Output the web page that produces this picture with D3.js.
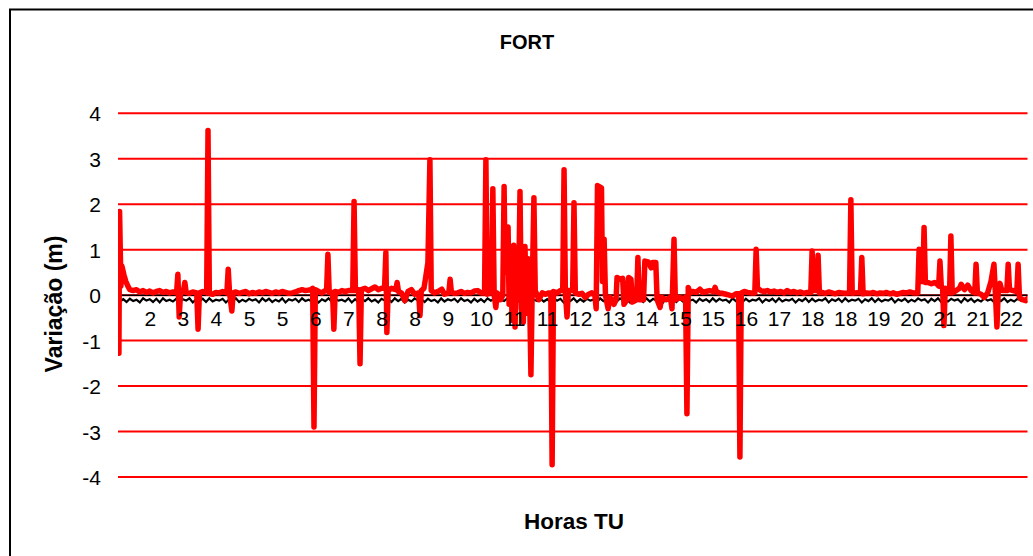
<!DOCTYPE html>
<html>
<head>
<meta charset="utf-8">
<script src="https://cdn.jsdelivr.net/npm/d3@7"></script>
<style>
  html, body { margin: 0; padding: 0; background: #fff; }
  svg { display: block; font-family: "Liberation Sans", Arial, sans-serif; }
</style>
</head>
<body>
<svg id="chart" width="1033" height="556"></svg>
<script>
// ---- data ----
const chartTitle = "FORT";
const xTitle = "Horas TU";
const yTitle = "Variação (m)";

// hour labels shown every 10 samples (samples 10, 20, ... 270)
const hourLabels = ["2","3","4","5","5","6","7","8","8","9","10","11","11","12","13","14","15","15","16","17","18","18","19","20","21","21","22"];
const labelEvery = 10;
const sampleCount = 276;

const yTicks = [-4, -3, -2, -1, 0, 1, 2, 3, 4];

// red series: [sample position, variation (m)]
const variationSeries = [
  [0,0.10],[0.7,-1.28],[0.9,1.84],[1.3,0.20],[1.6,0.64],[2.2,0.45],[2.8,0.30],[3.4,0.20],[4,0.12],[5,0.10],
  [6,0.12],[7,0.07],[8,0.10],[9,0.06],[10,0.09],[11,0.05],[12,0.08],[13,0.10],[14,0.06],[15,0.08],
  [16,0.05],[17,0.07],[18.1,0.05],[18.5,0.46],[18.9,-0.48],[19.3,0.05],[20.2,0.10],[20.6,0.28],[21,0.06],[22,0.04],
  [23,0.07],[24.2,0.05],[24.6,-0.75],[25,0.05],[26,0.08],[27.2,0.05],[27.6,3.62],[28,0.04],[29,0.02],[30,0.06],
  [31,0.05],[32,0.08],[33.3,0.05],[33.7,0.57],[34.1,0.05],[34.8,-0.35],[35.2,0.05],[36,0.07],[37,0.04],[38,0.06],
  [39,0.08],[40,0.03],[41,0.06],[42,0.04],[43,0.07],[44,0.05],[45,0.08],[46,0.06],[47,0.04],[48,0.07],
  [49,0.05],[50,0.08],[51,0.06],[52,0.04],[53,0.05],[54,0.07],[55,0.10],[56,0.12],[57,0.10],[58.6,0.12],
  [59.2,0.15],[59.6,-2.90],[60,0.12],[61,0.08],[62,0.05],[63,0.10],[63.4,0.10],[63.8,0.90],[64.2,0.06],[65.2,0.06],
  [65.6,-0.75],[66,0.08],[67,0.06],[68,0.10],[69,0.08],[70,0.10],[71.3,0.10],[71.7,2.06],[72.1,0.10],[73.1,0.12],
  [73.5,-1.51],[73.9,0.12],[75,0.15],[76,0.10],[77,0.14],[78,0.18],[79,0.12],[80,0.15],[80.9,0.15],[81.3,0.94],
  [81.6,-0.82],[82,0.10],[83,0.15],[84.3,0.12],[84.7,0.28],[85.1,0.08],[86,0.05],[87,-0.12],[88,0.08],[89,0.12],
  [90,0.02],[91.2,0.05],[91.6,-0.45],[92,0.10],[92.8,0.15],[93.3,0.38],[94.0,0.72],[94.6,2.98],[95.0,0.10],[96,0.05],
  [97,0.08],[98.2,0.13],[99,0.02],[100.3,0.05],[100.7,0.35],[101.1,0.06],[102,0.04],[103,0.05],[104,0.08],[105,0.04],
  [106,0.06],[107,0.05],[108,0.09],[109,0.10],[110,0.05],[111.1,0.05],[111.5,2.98],[111.9,0.02],[112.6,0.05],[113.2,0.05],
  [113.6,2.34],[114.0,0.00],[114.5,-0.27],[114.9,0.05],[116,-0.10],[116.6,0.00],[117.0,2.39],[117.3,0.50],[118.2,1.50],[118.5,-0.20],
  [119.0,1.00],[119.4,-0.55],[119.9,1.10],[120.3,-0.70],[120.8,0.90],[121.4,0.20],[121.8,2.28],[122.2,-0.30],[122.8,-0.60],[123.3,1.07],
  [123.8,-0.40],[124.3,0.80],[124.7,0.00],[125.1,-1.75],[125.5,0.20],[126.0,2.14],[126.4,0.10],[127.5,-0.10],[128.5,0.05],[129.5,0.02],
  [130.5,0.05],[131.1,0.05],[131.5,-3.73],[131.9,0.08],[133,0.05],[134,0.10],[134.7,0.10],[135.1,2.76],[135.5,0.05],[136.0,-0.48],
  [136.4,0.10],[137.7,0.10],[138.1,2.03],[138.5,0.05],[139.5,0.02],[140.5,0.04],[141.5,-0.05],[142.5,0.02],[143.5,0.05],[144.4,0.00],
  [144.8,-0.30],[145.2,2.41],[146.4,2.36],[146.7,0.30],[147.2,1.23],[147.6,0.00],[148.4,-0.30],[149,-0.05],[150.2,-0.20],[150.8,-0.10],
  [151.1,0.39],[152.0,0.35],[152.8,0.37],[153.2,-0.20],[154.1,-0.10],[154.6,0.39],[155.3,0.35],[155.7,-0.15],[157,-0.10],[157.4,0.83],
  [157.8,-0.10],[159.1,-0.10],[159.5,0.75],[160.5,0.73],[161.4,0.60],[161.8,0.72],[162.8,0.72],[163.2,-0.10],[164.1,-0.27],[164.6,-0.05],
  [166,-0.10],[167.2,-0.05],[167.7,-0.30],[168.3,1.23],[168.7,-0.10],[170,-0.05],[171,-0.08],[171.8,-0.05],[172.2,-2.61],[172.6,0.17],
  [173.2,0.05],[174,0.08],[175,0.06],[176.1,0.13],[177,0.06],[178,0.08],[179,0.10],[180.3,0.08],[180.7,0.17],[181.1,0.08],
  [182,0.05],[183,0.04],[184,0.02],[185,0.00],[186,-0.02],[187,0.03],[187.8,0.03],[188.2,-3.56],[188.6,0.05],[189.5,0.08],
  [190.5,0.06],[191.5,0.05],[192.7,0.05],[193.1,1.01],[193.5,0.15],[194.5,0.10],[195.5,0.08],[196.5,0.10],[197.5,0.07],[198.5,0.09],
  [199.5,0.06],[200.5,0.08],[201.5,0.05],[202.5,0.10],[203.5,0.06],[204.5,0.08],[205.5,0.05],[206.5,0.07],[207.5,0.04],[208.5,0.06],
  [209.6,0.06],[210.0,0.97],[210.4,0.10],[211.4,0.10],[211.8,0.88],[212.2,0.05],[213,0.06],[214,0.04],[215,0.07],[216,0.05],
  [217,0.03],[218,0.06],[219,0.05],[220,0.04],[221.3,0.05],[221.7,2.10],[222.1,0.04],[223,0.05],[224.6,0.06],[225.0,0.83],
  [225.4,0.03],[226.5,0.05],[227.5,0.04],[228.5,0.06],[229.5,0.03],[230.5,0.05],[231.5,0.04],[232.5,0.06],[233.5,0.03],[234.5,0.05],
  [235.5,0.02],[236.5,0.04],[237.5,0.06],[238.5,0.05],[239.5,0.07],[240.5,0.05],[241.9,0.05],[242.3,1.01],[242.7,0.30],[243.4,0.30],
  [243.8,1.49],[244.2,0.28],[245,0.28],[246,0.25],[247,0.28],[247.6,0.25],[248.2,0.20],[248.6,0.75],[249.0,0.20],[249.4,0.15],
  [249.8,-0.67],[250.2,0.15],[251.5,0.05],[251.9,1.30],[252.3,0.05],[253.5,0.10],[254.5,0.15],[255,0.24],[256,0.12],[257,0.22],
  [258,0.10],[259.1,0.05],[259.5,0.68],[259.9,0.05],[261,0.02],[262,-0.05],[263,0.05],[264.0,0.30],[264.9,0.68],[265.3,0.10],
  [265.8,-0.70],[266.2,0.10],[266.7,0.26],[267.3,0.10],[268.8,0.10],[269.2,0.68],[269.6,0.12],[271.8,0.08],[272.2,0.68],[272.6,-0.05],
  [273.5,-0.10],[274.5,-0.12],[275,-0.08]
];

// black series: one value per sample (0 .. 275)
const blackSeries = [
  -0.07,-0.14,-0.09,-0.15,-0.08,-0.13,-0.10,-0.16,-0.07,-0.12,-0.09,-0.15,
  -0.08,-0.16,-0.07,-0.13,-0.10,-0.14,-0.08,-0.15,-0.09,-0.12,-0.07,-0.16,
  -0.09,-0.13,-0.08,-0.15,-0.07,-0.14,-0.10,-0.12,-0.08,-0.16,-0.09,-0.13,
  -0.07,-0.15,-0.10,-0.14,-0.08,-0.12,-0.09,-0.16,-0.07,-0.13,-0.08,-0.15,
  -0.10,-0.14,-0.07,-0.16,-0.09,-0.12,-0.08,-0.15,-0.07,-0.13,-0.10,-0.14,
  -0.08,-0.16,-0.09,-0.13,-0.07,-0.15,-0.08,-0.12,-0.10,-0.14,-0.07,-0.16,
  -0.09,-0.15,-0.08,-0.13,-0.07,-0.14,-0.10,-0.16,-0.08,-0.12,-0.09,-0.15,
  -0.07,-0.13,-0.08,-0.16,-0.10,-0.14,-0.07,-0.12,-0.09,-0.15,-0.08,-0.13,
  -0.10,-0.16,-0.07,-0.14,-0.09,-0.12,-0.08,-0.15,-0.07,-0.13,-0.10,-0.16,
  -0.08,-0.14,-0.09,-0.15,-0.07,-0.12,-0.08,-0.16,-0.10,-0.13,-0.07,-0.14,
  -0.09,-0.15,-0.08,-0.12,-0.07,-0.16,-0.10,-0.13,-0.08,-0.14,-0.09,-0.15,
  -0.07,-0.12,-0.08,-0.16,-0.10,-0.13,-0.07,-0.15,-0.09,-0.14,-0.08,-0.12,
  -0.10,-0.16,-0.07,-0.13,-0.09,-0.15,-0.08,-0.14,-0.07,-0.12,-0.10,-0.16,
  -0.08,-0.13,-0.09,-0.15,-0.07,-0.14,-0.08,-0.12,-0.10,-0.16,-0.07,-0.13,
  -0.09,-0.15,-0.08,-0.14,-0.07,-0.12,-0.10,-0.16,-0.08,-0.13,-0.09,-0.15,
  -0.07,-0.14,-0.08,-0.12,-0.10,-0.16,-0.07,-0.13,-0.09,-0.15,-0.08,-0.14,
  -0.10,-0.12,-0.07,-0.16,-0.09,-0.13,-0.08,-0.15,-0.07,-0.14,-0.10,-0.12,
  -0.08,-0.16,-0.09,-0.13,-0.07,-0.15,-0.08,-0.14,-0.10,-0.12,-0.07,-0.16,
  -0.09,-0.13,-0.08,-0.15,-0.07,-0.14,-0.10,-0.12,-0.08,-0.16,-0.09,-0.13,
  -0.07,-0.15,-0.08,-0.14,-0.10,-0.12,-0.07,-0.16,-0.09,-0.13,-0.08,-0.15,
  -0.10,-0.14,-0.07,-0.12,-0.09,-0.16,-0.08,-0.13,-0.07,-0.15,-0.10,-0.14,
  -0.08,-0.12,-0.09,-0.16,-0.07,-0.13,-0.08,-0.15,-0.10,-0.14,-0.07,-0.12,
  -0.09,-0.16,-0.08,-0.13,-0.07,-0.15,-0.10,-0.14,-0.08,-0.12,-0.09,-0.16
];

// ---- layout ----
const svg = d3.select("#chart");
const plot = { left: 118, right: 1027.5, top: 100, bottom: 490 };

const x = d3.scaleLinear().domain([0, sampleCount - 1]).range([116.6, 1027.4]);
const y = d3.scaleLinear().domain([-4, 4]).range([477, 113.3]);

// outer frame
svg.append("rect")
  .attr("x", 10).attr("y", 9.5).attr("width", 1040).attr("height", 560)
  .attr("fill", "none").attr("stroke", "#000").attr("stroke-width", 2);

// title
svg.append("text").attr("x", 527).attr("y", 49)
  .attr("text-anchor", "middle").attr("font-weight", "bold").attr("font-size", 20)
  .text(chartTitle);

// gridlines
svg.append("g").selectAll("line").data(yTicks).join("line")
  .attr("x1", plot.left).attr("x2", plot.right)
  .attr("y1", d => y(d)).attr("y2", d => y(d))
  .attr("stroke", "#ff0000").attr("stroke-width", 2);

// y axis labels
const yAxis = d3.axisLeft(y).tickValues(yTicks).tickSize(0).tickPadding(0).tickFormat(d => String(d));
const yg = svg.append("g").attr("transform", "translate(101,0)").call(yAxis);
yg.select(".domain").remove();
yg.selectAll("text").attr("font-size", 21).attr("font-family", "Liberation Sans, Arial, sans-serif")
  .attr("fill", "#000").attr("dy", "0.36em");

// clip
svg.append("clipPath").attr("id", "clip").append("rect")
  .attr("x", plot.left).attr("y", plot.top)
  .attr("width", plot.right - plot.left).attr("height", plot.bottom - plot.top);

// x axis line at zero
svg.append("line").attr("x1", plot.left).attr("x2", plot.right)
  .attr("y1", y(0)).attr("y2", y(0)).attr("stroke", "#000").attr("stroke-width", 1.5);

// black series
const blackLine = d3.line().x((d, i) => x(i)).y(d => y(d));
svg.append("path").attr("clip-path", "url(#clip)")
  .attr("d", blackLine(blackSeries))
  .attr("fill", "none").attr("stroke", "#000").attr("stroke-width", 2.2);

// red series
const redLine = d3.line().x(d => x(d[0])).y(d => y(d[1]));
svg.append("path").attr("clip-path", "url(#clip)")
  .attr("d", redLine(variationSeries))
  .attr("fill", "none").attr("stroke", "#ff0000").attr("stroke-width", 5.5)
  .attr("stroke-linejoin", "round").attr("stroke-linecap", "round");

// x tick labels (category labels)
const labelIdx = hourLabels.map((d, k) => (k + 1) * labelEvery);
const xAxis = d3.axisBottom(x).tickValues(labelIdx).tickSize(0).tickPadding(0)
  .tickFormat((d, k) => hourLabels[k]);
const xg = svg.append("g").attr("transform", `translate(0,${y(0)})`).call(xAxis);
xg.select(".domain").remove();
xg.selectAll("text").attr("font-size", 21).attr("font-family", "Liberation Sans, Arial, sans-serif")
  .attr("fill", "#000").attr("dy", null).attr("y", 31);

// axis titles
svg.append("text").attr("x", 574).attr("y", 529)
  .attr("text-anchor", "middle").attr("font-weight", "bold").attr("font-size", 22.5)
  .text(xTitle);
svg.append("text").attr("transform", "translate(62,304) rotate(-90)")
  .attr("text-anchor", "middle").attr("font-weight", "bold").attr("font-size", 23)
  .text(yTitle);
</script>
</body>
</html>
